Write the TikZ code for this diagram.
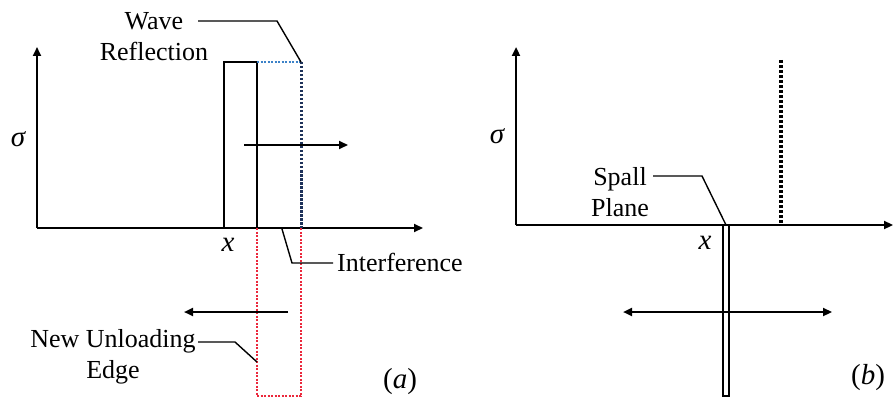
\documentclass[tikz,border=0pt]{standalone}
\usepackage{fontspec}
\setmainfont{Liberation Serif}
\usetikzlibrary{arrows.meta}
\definecolor{dotblue}{RGB}{60,130,200}
\definecolor{dotnavy}{RGB}{30,50,90}
\definecolor{dotred}{RGB}{235,40,60}
\begin{document}
\begin{tikzpicture}[x=1pt,y=-1pt,
  axis/.style={line width=2.2pt,-{Triangle[length=9pt,width=8pt]}},
  arr/.style={line width=2.2pt,-{Triangle[length=9pt,width=8pt]}},
  darr/.style={line width=2.2pt,{Triangle[length=9pt,width=8pt]}-{Triangle[length=9pt,width=8pt]}},
  solid box/.style={line width=2.2pt},
  leader/.style={line width=1.4pt},
  lbl/.style={font=\fontsize{26}{31}\selectfont,align=center,inner sep=0pt},
  mlbl/.style={font=\fontsize{29}{32}\selectfont\itshape,inner sep=0pt},
  bluedot/.style={dotblue,line width=2.2pt,dash pattern=on 2pt off 1.5pt},
  navydot/.style={dotnavy,line width=3pt,dash pattern=on 2.5pt off 1.5pt},
  reddot/.style={dotred,line width=2.2pt,dash pattern=on 2pt off 1.5pt},
  blackdot/.style={black,line width=4pt,dash pattern=on 3pt off 2pt}]
\useasboundingbox (0,0) rectangle (893,398);
% ---------- panel (a) ----------
\coordinate (aO) at (37,228);
\coordinate (aY) at (37,47);
\coordinate (aX) at (423,228);
\draw[axis] (aO) -- (aY);
\draw[axis] (aO) -- (aX);
\node[mlbl] (sigmaA) at (18,139) {σ};
\node[mlbl] (xA) at (228,245) {x};
% pulse
\coordinate (p1) at (224,228);
\coordinate (p2) at (224,62);
\coordinate (p3) at (257,62);
\coordinate (p4) at (257,228);
\coordinate (q3) at (301,62);
\coordinate (q4) at (301,228);
\coordinate (r1) at (257,396);
\coordinate (r2) at (301,396);
\draw[solid box] (p1) -- (p2) -- (p3) -- (p4);
\draw[bluedot] (p3) -- (q3);
\draw[navydot] (q3) -- (q4);
\draw[reddot] (p4) -- (r1) -- (r2) -- (q4);
% arrows
\coordinate (ra1) at (244,145);
\coordinate (ra2) at (348,145);
\draw[arr] (ra1) -- (ra2);
\coordinate (la1) at (288,312);
\coordinate (la2) at (184,312);
\draw[arr] (la1) -- (la2);
% labels
\node[lbl] (wave) at (154,37) {Wave\\Reflection};
\coordinate (w1) at (198,21);
\coordinate (w2) at (277,21);
\draw[leader] (w1) -- (w2) -- (q3);
\node[lbl,anchor=west] (interf) at (337,262) {Interference};
\coordinate (i0) at (282,229);
\coordinate (i1) at (292,263);
\coordinate (i2) at (333,263);
\draw[leader] (i0) -- (i1) -- (i2);
\node[lbl] (nue) at (113,357) {New Unloading\\Edge};
\coordinate (n1) at (198,342);
\coordinate (n2) at (235,342);
\coordinate (n3) at (257,362);
\draw[leader] (n1) -- (n2) -- (n3);
\node[mlbl] (labA) at (400,382) {\upshape(\itshape a\upshape)};
% ---------- panel (b) ----------
\coordinate (bO) at (516,225);
\coordinate (bY) at (516,47);
\coordinate (bX) at (893,225);
\draw[axis] (bO) -- (bY);
\draw[axis] (bO) -- (bX);
\node[mlbl] (sigmaB) at (497,136) {σ};
\node[mlbl] (xB) at (705,243) {x};
\coordinate (d1) at (781,60);
\coordinate (d2) at (781,225);
\draw[blackdot] (d1) -- (d2);
\coordinate (s1) at (723,225);
\coordinate (s2) at (729,396);
\draw[line width=1.6pt] (s1) rectangle (s2);
\coordinate (b1) at (623,312);
\coordinate (b2) at (832,312);
\draw[darr] (b1) -- (b2);
\node[lbl] (spall) at (620,192) {Spall\\Plane};
\coordinate (sp1) at (653,176);
\coordinate (sp2) at (702,176);
\coordinate (sp3) at (726,225);
\draw[leader] (sp1) -- (sp2) -- (sp3);
\node[mlbl] (labB) at (868,378) {\upshape(\itshape b\upshape)};
\end{tikzpicture}
\end{document}
